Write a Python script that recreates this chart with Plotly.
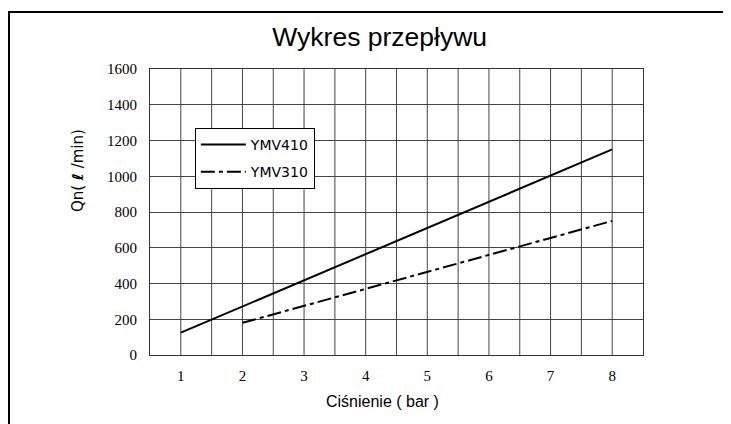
import plotly.graph_objects as go

pressure_410 = [1, 8]
flow_410 = [125, 1150]
pressure_310 = [2, 8]
flow_310 = [180, 750]
x_ticks = [1, 2, 3, 4, 5, 6, 7, 8]
y_ticks = [0, 200, 400, 600, 800, 1000, 1200, 1400, 1600]

fig = go.Figure()
fig.add_trace(go.Scatter(x=pressure_410, y=flow_410, mode="lines", name="YMV410",
                         legendgroup="a",
                         line=dict(color="black", width=2)))
fig.add_trace(go.Scatter(x=pressure_310, y=flow_310, mode="lines", name="YMV310",
                         legendgroup="b",
                         line=dict(color="black", width=2, dash="14px,4px,4px,4px")))

serif = "Liberation Serif, DejaVu Serif, serif"
sans = "Liberation Sans, Arial, sans-serif"

# the page body adds an 8px offset, so the figure is 8px smaller on each leading edge
fig.update_layout(
    width=723, height=416,
    margin=dict(l=142, r=88, t=61, b=69, autoexpand=False),
    paper_bgcolor="white", plot_bgcolor="white",
    title=dict(text="Wykres przepływu", xref="paper", x=0.466, xanchor="center",
               yref="container", y=0.93, yanchor="middle",
               font=dict(family=sans, size=26.5, color="black")),
    showlegend=True,
    legend=dict(x=0.091, y=0.794, xanchor="left", yanchor="top",
                bordercolor="black", borderwidth=1, bgcolor="white",
                font=dict(family="DejaVu Sans, sans-serif", size=14, color="black"),
                itemwidth=45, tracegroupgap=6),
    xaxis=dict(range=[0.5, 8.5], tickvals=x_ticks, ticks="", showgrid=False,
               showline=True, linecolor="#333", linewidth=1, mirror=True,
               tickfont=dict(family=serif, size=15, color="black"), ticklabelstandoff=7,
               automargin=False, zeroline=False, fixedrange=True),
    yaxis=dict(range=[0, 1600], tickvals=y_ticks, ticks="", showgrid=True, gridcolor="#444", gridwidth=1,
               showline=True, linecolor="#333", linewidth=1, mirror=True,
               tickfont=dict(family=serif, size=15, color="black"), ticklabelstandoff=9,
               automargin=False, zeroline=False, fixedrange=True),
)

# axis titles
fig.add_annotation(text="Ciśnienie ( bar )", xref="paper", yref="paper", x=0.471, y=-0.164,
                   showarrow=False, xanchor="center", yanchor="middle",
                   font=dict(family=sans, size=16, color="black"))
fig.add_annotation(text="Qn( <b>ℓ</b> /min)", xref="paper", yref="paper", x=-0.146, y=0.643,
                   showarrow=False, xanchor="center", yanchor="middle", textangle=-90,
                   font=dict(family="DejaVu Sans, sans-serif", size=15, color="black"))

# vertical grid lines every 0.5 bar
for k in range(1, 16):
    xv = 0.5 + 0.5 * k
    fig.add_shape(type="line", xref="x", yref="y", x0=xv, x1=xv, y0=0, y1=1600,
                  line=dict(color="#444", width=1), layer="below")

# outer frame (open at bottom edge of image)
fig.add_shape(type="rect", xref="paper", yref="paper",
              x0=-0.286, x1=1.170, y0=-0.25, y1=1.199,
              line=dict(color="black", width=2))

fig.write_html("out.html")
